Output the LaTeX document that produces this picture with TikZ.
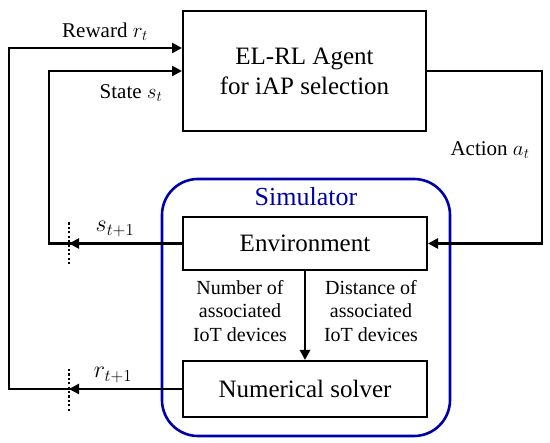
\documentclass[tikz,border=0pt]{standalone}
\usepackage{fix-cm}
\usepackage{fontspec}
\setmainfont{Liberation Serif}
\usetikzlibrary{arrows.meta,positioning}
\definecolor{simblue}{RGB}{0,0,170}

\begin{document}
\begin{tikzpicture}[
    x=1pt, y=1pt,
    block/.style={rectangle, draw=black, line width=2pt, fill=white, font=\fontsize{25}{30}\selectfont, align=center},
    flow/.style={line width=2.8pt, draw=black, -{Triangle[length=10pt,width=10pt]}},
    cut/.style={line width=1.6pt, dash pattern=on 2.2pt off 2.2pt},
    lbl/.style={font=\fontsize{21}{24}\selectfont, align=center},
    small/.style={font=\fontsize{20}{23.5}\selectfont, align=center}
]
\useasboundingbox (0,0) rectangle (550,443);

% simulator frame
\draw[simblue, line width=2.6pt, rounded corners=36pt] (162,7) rectangle (450,264);
\node[font=\fontsize{26}{30}\selectfont, text=simblue] (sim) at (306,246) {Simulator};

% blocks
\node[block, minimum width=243pt, minimum height=120pt] (agent) at (304.5,372) {EL-RL Agent\\for iAP selection};
\node[block, minimum width=244pt, minimum height=53pt] (env) at (305,199.5) {Environment};
\node[block, minimum width=244pt, minimum height=56pt] (solver) at (305,54) {Numerical solver};

% corner points of the loops
\coordinate (sl) at (49,199.5);
\coordinate (rl) at (9,54);
\coordinate (ar) at (542,372);
\coordinate (scut) at (69,199.5);
\coordinate (rcut) at (69,54);

% feedback: state
\draw[flow] (env.west) -- (scut);
\draw[flow] (env.west) -- (sl) |- (agent.west);
\draw[cut] ([yshift=21pt]scut) -- ([yshift=-21pt]scut);

% feedback: reward
\draw[flow] (solver.west) -- (rcut);
\draw[flow] (solver.west) -- (rl) |- ([yshift=23pt]agent.west);
\draw[cut] ([yshift=20pt]rcut) -- ([yshift=-22pt]rcut);

% action
\draw[flow] (agent.east) -- (ar) |- (env.east);

% inside the simulator
\draw[flow] (env.south) -- (solver.north);

% labels
\node[lbl] (lreward) at (105,411) {Reward $r_t$};
\node[lbl] (lstate) at (131,350) {State $s_t$};
\node[lbl] (laction) at (490,293) {Action $a_t$};
\node[lbl, font=\fontsize{24}{26}\selectfont] (lsnext) at (115,214) {$s_{t+1}$};
\node[lbl, font=\fontsize{24}{26}\selectfont] (lrnext) at (113,68) {$r_{t+1}$};
\node[small] (lnum) at (240,132) {Number of\\associated\\IoT devices};
\node[small] (ldist) at (371,132) {Distance of\\associated\\IoT devices};

\end{tikzpicture}
\end{document}
